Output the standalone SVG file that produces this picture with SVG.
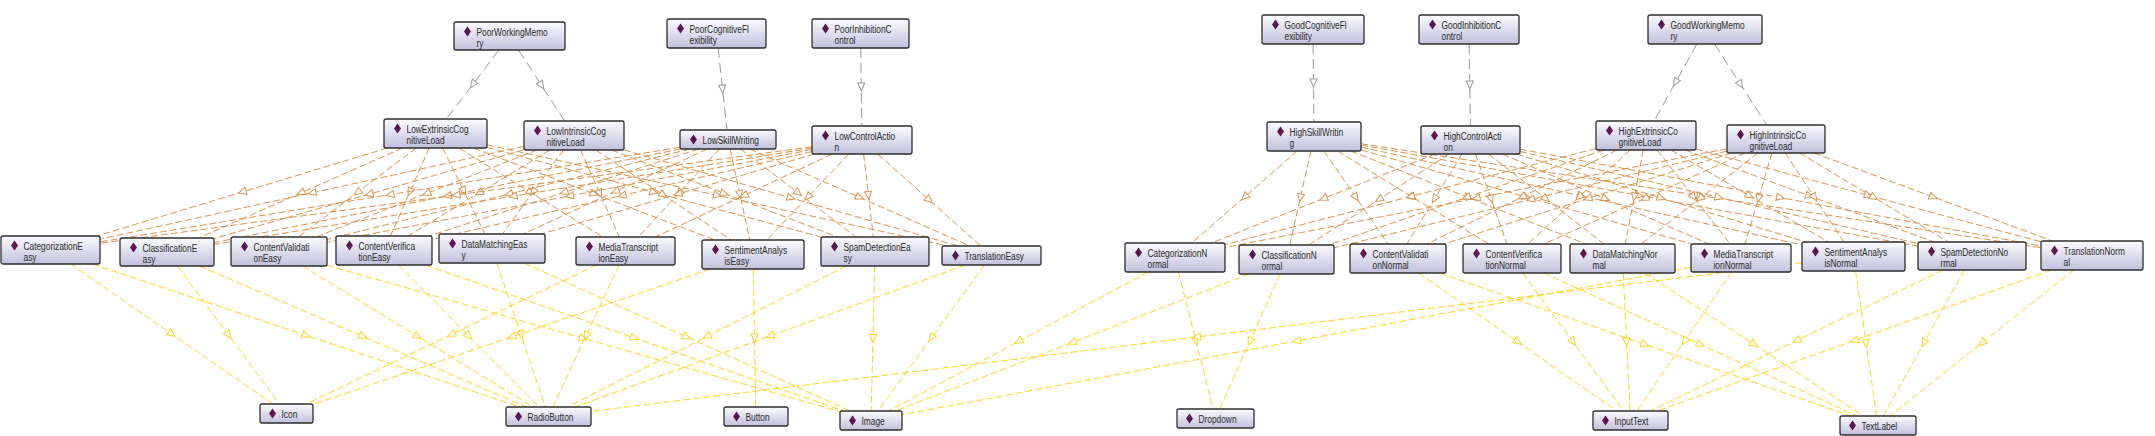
<svg xmlns="http://www.w3.org/2000/svg" xmlns:xlink="http://www.w3.org/1999/xlink" width="2155" height="436" viewBox="0 0 2155 436">
<style>
.n rect{fill:url(#ng);stroke:#2e2e2e;stroke-width:1.3}
.n text{font-family:"Liberation Sans",Arial,sans-serif;font-size:11px;fill:#2a2a2a}
.e path{fill:none;stroke-width:1}
.gr path{stroke:#9a9a9a;stroke-dasharray:10 5;marker-mid:url(#ag)}
.or path{stroke:#D9944F;stroke-dasharray:7 3;marker-mid:url(#ao)}
.ye path{stroke:#FFD21A;stroke-dasharray:7 3;marker-mid:url(#ay)}
</style>
<defs>
<linearGradient id="ng" x1="0" y1="0" x2="0" y2="1"><stop offset="0" stop-color="#FBFBFF"/><stop offset="1" stop-color="#C2C1DC"/></linearGradient>
<path id="dia" d="M0,-5 L3.5,0 L0,5 L-3.5,0 Z" fill="#5B1650"/>
<marker id="ag" viewBox="0 0 10 10" refX="5" refY="5" markerWidth="10" markerHeight="10" markerUnits="userSpaceOnUse" orient="auto"><path d="M1,1.5 L9,5 L1,8.5 Z" fill="#fff" stroke="#9a9a9a"/></marker>
<marker id="ao" viewBox="0 0 10 10" refX="5" refY="5" markerWidth="10" markerHeight="10" markerUnits="userSpaceOnUse" orient="auto"><path d="M1,1.5 L9,5 L1,8.5 Z" fill="#fff" stroke="#D9944F"/></marker>
<marker id="ay" viewBox="0 0 10 10" refX="5" refY="5" markerWidth="10" markerHeight="10" markerUnits="userSpaceOnUse" orient="auto"><path d="M1,1.5 L9,5 L1,8.5 Z" fill="#fff" stroke="#FFD21A"/></marker>
</defs>
<rect width="2155" height="436" fill="#fff"/>
<g id="connectors" class="e">
<g class="gr">
<path d="M498.9,50 L472.7,84.5 L446.5,119"/>
<path d="M518.6,50 L541.6,85.5 L564.6,121"/>
<path d="M718.1,48 L722.5,89 L727,130"/>
<path d="M860.7,48 L861.3,87 L861.8,126"/>
<path d="M1313.1,44 L1313.5,83 L1313.9,122"/>
<path d="M1469.1,44 L1469.8,85 L1470.4,126"/>
<path d="M1696.9,44 L1675.5,82.5 L1654.1,121"/>
<path d="M1714.4,44 L1740.6,84.5 L1766.9,125"/>
</g>
<g class="or">
<path d="M387.6,148 L242.2,192 L96.8,236"/>
<path d="M402.6,148 L300.7,193 L198.7,238"/>
<path d="M416.3,148 L357.3,192.5 L298.2,237"/>
<path d="M429.1,148 L409.8,192 L390.4,236"/>
<path d="M442.6,148 L463.8,191 L484.9,234"/>
<path d="M458.9,148 L530.9,192.5 L602.9,237"/>
<path d="M473.5,148 L594.3,194 L715,240"/>
<path d="M487,147.3 L654,192.2 L821,237"/>
<path d="M487,144.8 L717.6,195.4 L948.2,246"/>
<path d="M524,146.4 L312,192.8 L100,239.2"/>
<path d="M524,149.8 L369,194.2 L214,238.5"/>
<path d="M537.1,150 L426.5,193.5 L315.9,237"/>
<path d="M550,150 L479,193 L408,236"/>
<path d="M563.5,150 L533,192 L502.5,234"/>
<path d="M580.5,150 L599.9,193.5 L619.3,237"/>
<path d="M595.8,150 L663.5,195 L731.2,240"/>
<path d="M611.6,150 L724.5,193.5 L837.4,237"/>
<path d="M624,149.9 L791.2,198 L958.4,246"/>
<path d="M680,147.3 L390,194.6 L100,241.9"/>
<path d="M680.6,149 L447.3,195.8 L214,242.6"/>
<path d="M689.9,149 L508.5,194.2 L327,239.5"/>
<path d="M698.6,149 L563.8,192.5 L428.9,236"/>
<path d="M707.4,149 L615.4,191.5 L523.4,234"/>
<path d="M719.3,149 L678.9,193 L638.4,237"/>
<path d="M730.1,149 L740,194.5 L749.8,240"/>
<path d="M740.5,149 L798.3,193 L856,237"/>
<path d="M749.6,149 L859.8,197.5 L969.9,246"/>
<path d="M812,146.8 L456,195 L100,243.3"/>
<path d="M812,148.1 L513,196.2 L214,244.4"/>
<path d="M812,149.6 L569.5,196 L327,242.3"/>
<path d="M812,151.6 L622,195.5 L432,239.4"/>
<path d="M814.3,154 L677.9,194 L541.4,234"/>
<path d="M832.2,154 L743.8,195.5 L655.3,237"/>
<path d="M848.7,154 L807.8,197 L766.8,240"/>
<path d="M863.6,154 L868.5,195.5 L873.3,237"/>
<path d="M877.7,154 L929.3,200 L980.8,246"/>
<path d="M1297.3,151 L1244.5,197 L1191.7,243"/>
<path d="M1310.8,151 L1300.3,198 L1289.7,245"/>
<path d="M1324,151 L1356,197.5 L1388,244"/>
<path d="M1337.5,151 L1413,197.5 L1488.5,244"/>
<path d="M1350.7,151 L1468.3,197.5 L1585.8,244"/>
<path d="M1361,149.9 L1526.4,197 L1691.8,244"/>
<path d="M1361,147 L1581.5,196 L1802,245"/>
<path d="M1361,145 L1639.5,195.6 L1918,246.2"/>
<path d="M1361,143.7 L1701,195.7 L2041,247.7"/>
<path d="M1435.3,154 L1323.4,198.5 L1211.5,243"/>
<path d="M1448.9,154 L1378.9,199.5 L1308.8,245"/>
<path d="M1462,154 L1434.5,199 L1406.9,244"/>
<path d="M1475.4,154 L1491.2,199 L1506.9,244"/>
<path d="M1488.5,154 L1546.2,199 L1603.9,244"/>
<path d="M1502.6,154 L1605.8,199 L1708.9,244"/>
<path d="M1516.5,154 L1661.2,198 L1805.8,242"/>
<path d="M1520,151.5 L1719,197.5 L1918,243.5"/>
<path d="M1520,149.2 L1780.5,197.6 L2041,246"/>
<path d="M1596,148.5 L1410.5,196.5 L1225,244.5"/>
<path d="M1604,150 L1466.3,197.5 L1328.5,245"/>
<path d="M1616.8,150 L1522,197 L1427.2,244"/>
<path d="M1630.2,150 L1579,197 L1527.8,244"/>
<path d="M1643.2,150 L1634.3,197 L1625.3,244"/>
<path d="M1657.2,150 L1693.7,197 L1730.1,244"/>
<path d="M1670.9,150 L1749.8,196 L1828.6,242"/>
<path d="M1685.2,150 L1809.7,196 L1934.1,242"/>
<path d="M1696,149 L1868.5,195.4 L2041,241.8"/>
<path d="M1727,148.7 L1476,198.2 L1225,247.6"/>
<path d="M1727,151.1 L1530.5,199.5 L1334,247.8"/>
<path d="M1731.7,153 L1587.8,198.5 L1443.9,244"/>
<path d="M1745.1,153 L1644.6,198.5 L1544,244"/>
<path d="M1758,153 L1699.6,198.5 L1641.1,244"/>
<path d="M1771.9,153 L1758.5,198.5 L1745.1,244"/>
<path d="M1785.2,153 L1814.6,197.5 L1843.9,242"/>
<path d="M1799.5,153 L1874,197.5 L1948.5,242"/>
<path d="M1814,153 L1933.4,197 L2052.7,241"/>
</g>
<g class="ye">
<path d="M70.7,264 L171.8,334 L272.8,404"/>
<path d="M92.4,264 L306.3,335.5 L520.1,407"/>
<path d="M177.4,266 L228.5,335 L279.5,404"/>
<path d="M199.5,266 L363,336.5 L526.5,407"/>
<path d="M302.7,266 L417.9,336.5 L533,407"/>
<path d="M327,265.2 L583.5,338.4 L840,411.6"/>
<path d="M398.4,265 L468.8,336 L539.1,407"/>
<path d="M425.5,265 L634.7,338 L843.8,411"/>
<path d="M496.9,263 L521.1,335 L545.3,407"/>
<path d="M524,263 L687,337 L850.1,411"/>
<path d="M596.3,265 L451.3,334.5 L306.3,404"/>
<path d="M619,265 L586,336 L552.9,407"/>
<path d="M710.5,269 L511.8,336.8 L313,404.5"/>
<path d="M753.3,269 L754.5,338 L755.8,407"/>
<path d="M846.3,266 L706.8,336.5 L567.3,407"/>
<path d="M874.7,266 L873,338.5 L871.2,411"/>
<path d="M965.4,265 L770,336 L574.6,407"/>
<path d="M984.6,265 L931.3,338 L877.9,411"/>
<path d="M1148,272 L1018.4,341.5 L888.7,411"/>
<path d="M1178.6,272 L1195.9,340.5 L1213.1,409"/>
<path d="M1249.1,274 L1072.3,342.5 L895.5,411"/>
<path d="M1280,274 L1249.9,341.5 L1219.7,409"/>
<path d="M1418.8,273 L1517.9,342 L1616.9,411"/>
<path d="M1439.7,273 L1645.2,344.5 L1850.7,416"/>
<path d="M1522.6,273 L1573.1,342 L1623.6,411"/>
<path d="M1543.8,273 L1700.5,344.5 L1857.2,416"/>
<path d="M1623.2,273 L1626.6,342 L1630,411"/>
<path d="M1644.7,273 L1754.1,344.5 L1863.5,416"/>
<path d="M1731.5,272 L1684.3,341.5 L1637,411"/>
<path d="M1691,267.3 L1296.5,341 L902,414.7"/>
<path d="M1855.6,271 L1866.1,343.5 L1876.6,416"/>
<path d="M1802,262.8 L1196.5,337 L591,411.3"/>
<path d="M1942.9,270 L1796.6,340.5 L1650.2,411"/>
<path d="M1964.2,270 L1923.8,343 L1883.3,416"/>
<path d="M2051.4,270 L1854.3,340.5 L1657.1,411"/>
<path d="M2073.7,270 L1981.9,343 L1890,416"/>
</g>
</g>
<g id="nodes">
<g id="PoorWorkingMemory" class="n"><rect x="454" y="22" width="111" height="28" rx="2"/><use xlink:href="#dia" x="467.5" y="31.5"/><text transform="translate(476.5,35.5) scale(0.76,1)">PoorWorkingMemo</text><text transform="translate(476.5,46.5) scale(0.76,1)">ry</text></g>
<g id="PoorCognitiveFlexibility" class="n"><rect x="667" y="19" width="99" height="29" rx="2"/><use xlink:href="#dia" x="680.5" y="28.5"/><text transform="translate(689.5,32.5) scale(0.76,1)">PoorCognitiveFl</text><text transform="translate(689.5,43.5) scale(0.76,1)">exibility</text></g>
<g id="PoorInhibitionControl" class="n"><rect x="812" y="19" width="97" height="29" rx="2"/><use xlink:href="#dia" x="825.5" y="28.5"/><text transform="translate(834.5,32.5) scale(0.76,1)">PoorInhibitionC</text><text transform="translate(834.5,43.5) scale(0.76,1)">ontrol</text></g>
<g id="GoodCognitiveFlexibility" class="n"><rect x="1262" y="15" width="102" height="29" rx="2"/><use xlink:href="#dia" x="1275.5" y="24.5"/><text transform="translate(1284.5,28.5) scale(0.76,1)">GoodCognitiveFl</text><text transform="translate(1284.5,39.5) scale(0.76,1)">exibility</text></g>
<g id="GoodInhibitionControl" class="n"><rect x="1419" y="15" width="100" height="29" rx="2"/><use xlink:href="#dia" x="1432.5" y="24.5"/><text transform="translate(1441.5,28.5) scale(0.76,1)">GoodInhibitionC</text><text transform="translate(1441.5,39.5) scale(0.76,1)">ontrol</text></g>
<g id="GoodWorkingMemory" class="n"><rect x="1648" y="15" width="114" height="29" rx="2"/><use xlink:href="#dia" x="1661.5" y="24.5"/><text transform="translate(1670.5,28.5) scale(0.76,1)">GoodWorkingMemo</text><text transform="translate(1670.5,39.5) scale(0.76,1)">ry</text></g>
<g id="LowExtrinsicCognitiveLoad" class="n"><rect x="384" y="119" width="103" height="29" rx="2"/><use xlink:href="#dia" x="397.5" y="128.5"/><text transform="translate(406.5,132.5) scale(0.76,1)">LowExtrinsicCog</text><text transform="translate(406.5,143.5) scale(0.76,1)">nitiveLoad</text></g>
<g id="LowIntrinsicCognitiveLoad" class="n"><rect x="524" y="121" width="100" height="29" rx="2"/><use xlink:href="#dia" x="537.5" y="130.5"/><text transform="translate(546.5,134.5) scale(0.76,1)">LowIntrinsicCog</text><text transform="translate(546.5,145.5) scale(0.76,1)">nitiveLoad</text></g>
<g id="LowSkillWriting" class="n"><rect x="680" y="130" width="96" height="19" rx="2"/><use xlink:href="#dia" x="693.5" y="139.5"/><text transform="translate(702.5,143.5) scale(0.76,1)">LowSkillWriting</text></g>
<g id="LowControlAction" class="n"><rect x="812" y="126" width="100" height="28" rx="2"/><use xlink:href="#dia" x="825.5" y="135.5"/><text transform="translate(834.5,139.5) scale(0.76,1)">LowControlActio</text><text transform="translate(834.5,150.5) scale(0.76,1)">n</text></g>
<g id="HighSkillWriting" class="n"><rect x="1267" y="122" width="94" height="29" rx="2"/><use xlink:href="#dia" x="1280.5" y="131.5"/><text transform="translate(1289.5,135.5) scale(0.76,1)">HighSkillWritin</text><text transform="translate(1289.5,146.5) scale(0.76,1)">g</text></g>
<g id="HighControlAction" class="n"><rect x="1421" y="126" width="99" height="28" rx="2"/><use xlink:href="#dia" x="1434.5" y="135.5"/><text transform="translate(1443.5,139.5) scale(0.76,1)">HighControlActi</text><text transform="translate(1443.5,150.5) scale(0.76,1)">on</text></g>
<g id="HighExtrinsicCognitiveLoad" class="n"><rect x="1596" y="121" width="100" height="29" rx="2"/><use xlink:href="#dia" x="1609.5" y="130.5"/><text transform="translate(1618.5,134.5) scale(0.76,1)">HighExtrinsicCo</text><text transform="translate(1618.5,145.5) scale(0.76,1)">gnitiveLoad</text></g>
<g id="HighIntrinsicCognitiveLoad" class="n"><rect x="1727" y="125" width="98" height="28" rx="2"/><use xlink:href="#dia" x="1740.5" y="134.5"/><text transform="translate(1749.5,138.5) scale(0.76,1)">HighIntrinsicCo</text><text transform="translate(1749.5,149.5) scale(0.76,1)">gnitiveLoad</text></g>
<g id="CategorizationEasy" class="n"><rect x="1" y="236" width="99" height="28" rx="2"/><use xlink:href="#dia" x="14.5" y="245.5"/><text transform="translate(23.5,249.5) scale(0.76,1)">CategorizationE</text><text transform="translate(23.5,260.5) scale(0.76,1)">asy</text></g>
<g id="ClassificationEasy" class="n"><rect x="120" y="238" width="94" height="28" rx="2"/><use xlink:href="#dia" x="133.5" y="247.5"/><text transform="translate(142.5,251.5) scale(0.76,1)">ClassificationE</text><text transform="translate(142.5,262.5) scale(0.76,1)">asy</text></g>
<g id="ContentValidationEasy" class="n"><rect x="231" y="237" width="96" height="29" rx="2"/><use xlink:href="#dia" x="244.5" y="246.5"/><text transform="translate(253.5,250.5) scale(0.76,1)">ContentValidati</text><text transform="translate(253.5,261.5) scale(0.76,1)">onEasy</text></g>
<g id="ContentVerificationEasy" class="n"><rect x="336" y="236" width="96" height="29" rx="2"/><use xlink:href="#dia" x="349.5" y="245.5"/><text transform="translate(358.5,249.5) scale(0.76,1)">ContentVerifica</text><text transform="translate(358.5,260.5) scale(0.76,1)">tionEasy</text></g>
<g id="DataMatchingEasy" class="n"><rect x="439" y="234" width="106" height="29" rx="2"/><use xlink:href="#dia" x="452.5" y="243.5"/><text transform="translate(461.5,247.5) scale(0.76,1)">DataMatchingEas</text><text transform="translate(461.5,258.5) scale(0.76,1)">y</text></g>
<g id="MediaTranscriptionEasy" class="n"><rect x="576" y="237" width="99" height="28" rx="2"/><use xlink:href="#dia" x="589.5" y="246.5"/><text transform="translate(598.5,250.5) scale(0.76,1)">MediaTranscript</text><text transform="translate(598.5,261.5) scale(0.76,1)">ionEasy</text></g>
<g id="SentimentAnalysisEasy" class="n"><rect x="702" y="240" width="102" height="29" rx="2"/><use xlink:href="#dia" x="715.5" y="249.5"/><text transform="translate(724.5,253.5) scale(0.76,1)">SentimentAnalys</text><text transform="translate(724.5,264.5) scale(0.76,1)">isEasy</text></g>
<g id="SpamDetectionEasy" class="n"><rect x="821" y="237" width="108" height="29" rx="2"/><use xlink:href="#dia" x="834.5" y="246.5"/><text transform="translate(843.5,250.5) scale(0.76,1)">SpamDetectionEa</text><text transform="translate(843.5,261.5) scale(0.76,1)">sy</text></g>
<g id="TranslationEasy" class="n"><rect x="942" y="246" width="99" height="19" rx="2"/><use xlink:href="#dia" x="955.5" y="255.5"/><text transform="translate(964.5,259.5) scale(0.76,1)">TranslationEasy</text></g>
<g id="CategorizationNormal" class="n"><rect x="1125" y="243" width="100" height="29" rx="2"/><use xlink:href="#dia" x="1138.5" y="252.5"/><text transform="translate(1147.5,256.5) scale(0.76,1)">CategorizationN</text><text transform="translate(1147.5,267.5) scale(0.76,1)">ormal</text></g>
<g id="ClassificationNormal" class="n"><rect x="1239" y="245" width="95" height="29" rx="2"/><use xlink:href="#dia" x="1252.5" y="254.5"/><text transform="translate(1261.5,258.5) scale(0.76,1)">ClassificationN</text><text transform="translate(1261.5,269.5) scale(0.76,1)">ormal</text></g>
<g id="ContentValidationNormal" class="n"><rect x="1350" y="244" width="96" height="29" rx="2"/><use xlink:href="#dia" x="1363.5" y="253.5"/><text transform="translate(1372.5,257.5) scale(0.76,1)">ContentValidati</text><text transform="translate(1372.5,268.5) scale(0.76,1)">onNormal</text></g>
<g id="ContentVerificationNormal" class="n"><rect x="1463" y="244" width="98" height="29" rx="2"/><use xlink:href="#dia" x="1476.5" y="253.5"/><text transform="translate(1485.5,257.5) scale(0.76,1)">ContentVerifica</text><text transform="translate(1485.5,268.5) scale(0.76,1)">tionNormal</text></g>
<g id="DataMatchingNormal" class="n"><rect x="1570" y="244" width="105" height="29" rx="2"/><use xlink:href="#dia" x="1583.5" y="253.5"/><text transform="translate(1592.5,257.5) scale(0.76,1)">DataMatchingNor</text><text transform="translate(1592.5,268.5) scale(0.76,1)">mal</text></g>
<g id="MediaTranscriptionNormal" class="n"><rect x="1691" y="244" width="100" height="28" rx="2"/><use xlink:href="#dia" x="1704.5" y="253.5"/><text transform="translate(1713.5,257.5) scale(0.76,1)">MediaTranscript</text><text transform="translate(1713.5,268.5) scale(0.76,1)">ionNormal</text></g>
<g id="SentimentAnalysisNormal" class="n"><rect x="1802" y="242" width="103" height="29" rx="2"/><use xlink:href="#dia" x="1815.5" y="251.5"/><text transform="translate(1824.5,255.5) scale(0.76,1)">SentimentAnalys</text><text transform="translate(1824.5,266.5) scale(0.76,1)">isNormal</text></g>
<g id="SpamDetectionNormal" class="n"><rect x="1918" y="242" width="108" height="28" rx="2"/><use xlink:href="#dia" x="1931.5" y="251.5"/><text transform="translate(1940.5,255.5) scale(0.76,1)">SpamDetectionNo</text><text transform="translate(1940.5,266.5) scale(0.76,1)">rmal</text></g>
<g id="TranslationNormal" class="n"><rect x="2041" y="241" width="102" height="29" rx="2"/><use xlink:href="#dia" x="2054.5" y="250.5"/><text transform="translate(2063.5,254.5) scale(0.76,1)">TranslationNorm</text><text transform="translate(2063.5,265.5) scale(0.76,1)">al</text></g>
<g id="Icon" class="n"><rect x="260" y="404" width="53" height="19" rx="2"/><use xlink:href="#dia" x="272.5" y="413.5"/><text transform="translate(281.5,417.5) scale(0.76,1)">Icon</text></g>
<g id="RadioButton" class="n"><rect x="506" y="407" width="85" height="19" rx="2"/><use xlink:href="#dia" x="518.5" y="416.5"/><text transform="translate(527.5,420.5) scale(0.76,1)">RadioButton</text></g>
<g id="Button" class="n"><rect x="724" y="407" width="64" height="19" rx="2"/><use xlink:href="#dia" x="736.5" y="416.5"/><text transform="translate(745.5,420.5) scale(0.76,1)">Button</text></g>
<g id="Image" class="n"><rect x="840" y="411" width="62" height="19" rx="2"/><use xlink:href="#dia" x="852.5" y="420.5"/><text transform="translate(861.5,424.5) scale(0.76,1)">Image</text></g>
<g id="Dropdown" class="n"><rect x="1177" y="409" width="77" height="19" rx="2"/><use xlink:href="#dia" x="1189.5" y="418.5"/><text transform="translate(1198.5,422.5) scale(0.76,1)">Dropdown</text></g>
<g id="InputText" class="n"><rect x="1593" y="411" width="75" height="19" rx="2"/><use xlink:href="#dia" x="1605.5" y="420.5"/><text transform="translate(1614.5,424.5) scale(0.76,1)">InputText</text></g>
<g id="TextLabel" class="n"><rect x="1840" y="416" width="76" height="19" rx="2"/><use xlink:href="#dia" x="1852.5" y="425.5"/><text transform="translate(1861.5,429.5) scale(0.76,1)">TextLabel</text></g>
</g>
</svg>
